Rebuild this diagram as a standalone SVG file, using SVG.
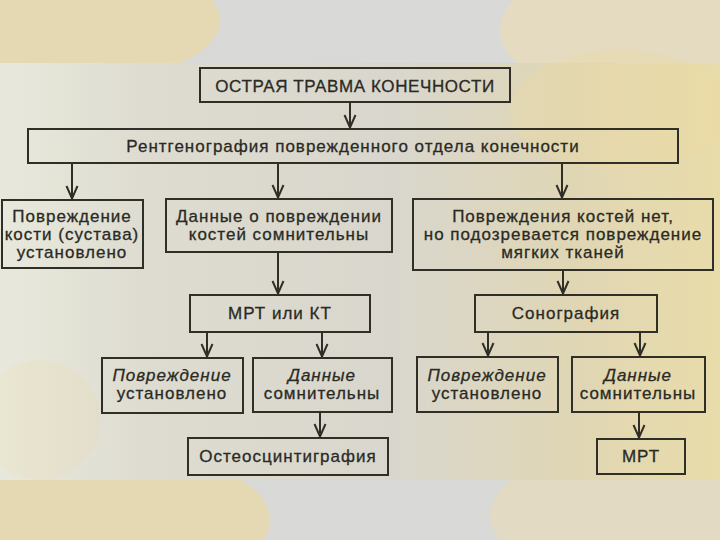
<svg xmlns="http://www.w3.org/2000/svg" width="720" height="540" viewBox="0 0 720 540">
<defs>
<linearGradient id="panel" x1="0" y1="0" x2="1" y2="0">
<stop offset="0" stop-color="#e8e9dc"/>
<stop offset="0.2" stop-color="#dedcd0"/>
<stop offset="0.55" stop-color="#d9d7cd"/>
<stop offset="0.8" stop-color="#e0d6b4"/>
<stop offset="1" stop-color="#e9dcaa"/>
</linearGradient>
<marker id="arr" viewBox="0 0 16 14" refX="15" refY="7" markerWidth="16" markerHeight="14" markerUnits="userSpaceOnUse" orient="auto">
<polyline points="2,1.5 14.5,7 2,12.5" fill="none" stroke="#2f2f28" stroke-width="2"/>
</marker>
</defs>
<style>
.box{fill:none;stroke:#2f2f28;stroke-width:2}
.t{font-family:"Liberation Sans",Arial,sans-serif;font-size:17px;fill:#2a2a24;stroke:#2a2a24;stroke-width:0.3px;text-anchor:middle;letter-spacing:1px}
.i{font-style:italic}
.con line{stroke:#2f2f28;stroke-width:2}
</style>
<rect x="0" y="0" width="720" height="540" fill="#d9d9d8"/>
<ellipse cx="90" cy="20" rx="130" ry="60" fill="#f2d98f" opacity="0.5"/>
<ellipse cx="640" cy="30" rx="140" ry="70" fill="#f1dda4" opacity="0.45"/>
<ellipse cx="110" cy="520" rx="160" ry="70" fill="#f2d98f" opacity="0.5"/>
<ellipse cx="640" cy="515" rx="150" ry="70" fill="#f1dda4" opacity="0.4"/>
<rect x="0" y="63" width="720" height="417" fill="url(#panel)"/>
<ellipse cx="40" cy="420" rx="60" ry="60" fill="#efd89a" opacity="0.15"/>
<ellipse cx="620" cy="110" rx="110" ry="60" fill="#eed9a0" opacity="0.3"/>

<g class="con" id="connectors">
<line x1="350" y1="102" x2="350" y2="128" marker-end="url(#arr)"/>
<line x1="72" y1="163" x2="72" y2="199" marker-end="url(#arr)"/>
<line x1="278" y1="163" x2="278" y2="198" marker-end="url(#arr)"/>
<line x1="562" y1="163" x2="562" y2="198" marker-end="url(#arr)"/>
<line x1="278" y1="252" x2="278" y2="294" marker-end="url(#arr)"/>
<line x1="563" y1="270" x2="563" y2="294" marker-end="url(#arr)"/>
<line x1="207" y1="332" x2="207" y2="357" marker-end="url(#arr)"/>
<line x1="322" y1="332" x2="322" y2="357" marker-end="url(#arr)"/>
<line x1="488" y1="332" x2="488" y2="356" marker-end="url(#arr)"/>
<line x1="640" y1="332" x2="640" y2="356" marker-end="url(#arr)"/>
<line x1="320" y1="412" x2="320" y2="437" marker-end="url(#arr)"/>
<line x1="639" y1="412" x2="639" y2="438" marker-end="url(#arr)"/>
</g>

<g id="n1"><rect class="box" x="200" y="68" width="310" height="34"/><text class="t" x="355" y="92" style="letter-spacing:0.6px">ОСТРАЯ ТРАВМА КОНЕЧНОСТИ</text></g>
<g id="n2"><rect class="box" x="28" y="129" width="650" height="34"/><text class="t" x="353" y="152">Рентгенография поврежденного отдела конечности</text></g>
<g id="n3"><rect class="box" x="2" y="200" width="141" height="68"/>
<text class="t" x="72" y="222">Повреждение</text><text class="t" x="72" y="240">кости (сустава)</text><text class="t" x="72" y="258">установлено</text></g>
<g id="n4"><rect class="box" x="166" y="199" width="226" height="53"/>
<text class="t" x="279" y="222">Данные о повреждении</text><text class="t" x="279" y="240">костей сомнительны</text></g>
<g id="n5"><rect class="box" x="413" y="199" width="300" height="71"/>
<text class="t" x="563" y="222">Повреждения костей нет,</text><text class="t" x="563" y="240">но подозревается повреждение</text><text class="t" x="563" y="258">мягких тканей</text></g>
<g id="n6"><rect class="box" x="190" y="295" width="180" height="37"/><text class="t" x="280" y="319">МРТ или КТ</text></g>
<g id="n7"><rect class="box" x="475" y="295" width="182" height="37"/><text class="t" x="566" y="319">Сонография</text></g>
<g id="n8"><rect class="box" x="102" y="358" width="141" height="55"/>
<text class="t i" x="172" y="381">Повреждение</text><text class="t" x="172" y="399">установлено</text></g>
<g id="n9"><rect class="box" x="253" y="358" width="139" height="54"/>
<text class="t i" x="322" y="381">Данные</text><text class="t" x="322" y="399">сомнительны</text></g>
<g id="n10"><rect class="box" x="417" y="357" width="141" height="55"/>
<text class="t i" x="487" y="381">Повреждение</text><text class="t" x="487" y="399">установлено</text></g>
<g id="n11"><rect class="box" x="572" y="357" width="133" height="55"/>
<text class="t i" x="638" y="381">Данные</text><text class="t" x="638" y="399">сомнительны</text></g>
<g id="n12"><rect class="box" x="188" y="438" width="200" height="37"/><text class="t" x="288" y="462">Остеосцинтиграфия</text></g>
<g id="n13"><rect class="box" x="597" y="439" width="88" height="35"/><text class="t" x="641" y="462">МРТ</text></g>
</svg>
